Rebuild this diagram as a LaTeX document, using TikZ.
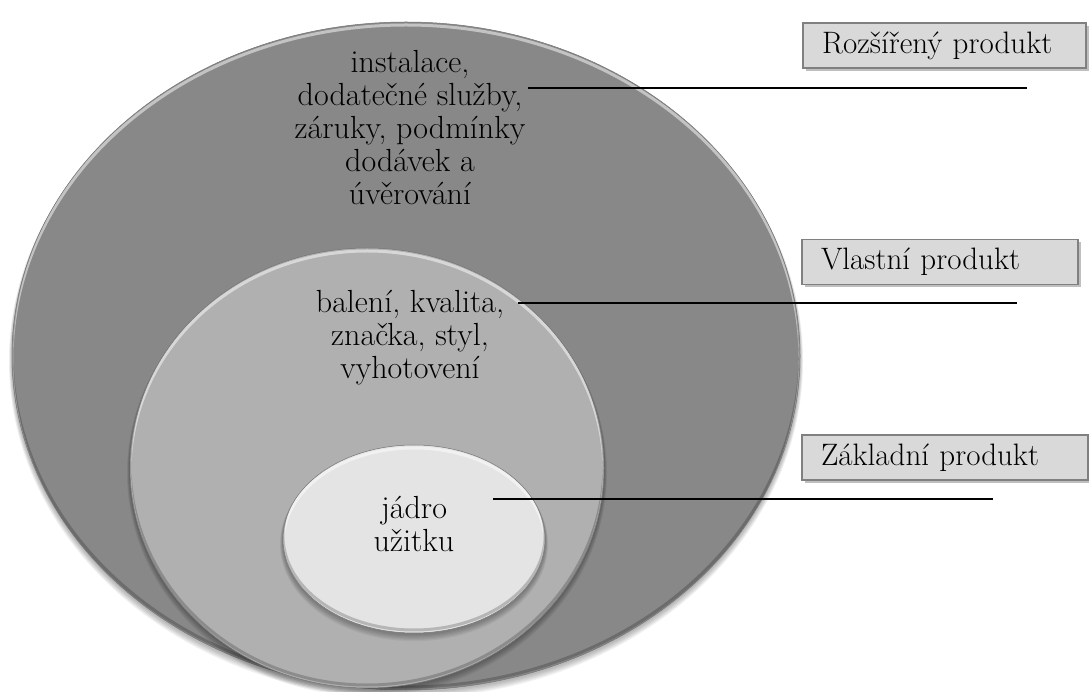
\documentclass[tikz,border=0pt]{standalone}
\usepackage{fontspec}
\usetikzlibrary{shadows}
\definecolor{outerfill}{HTML}{888888}
\definecolor{middlefill}{HTML}{B0B0B0}
\definecolor{innerfill}{HTML}{E4E4E4}
\definecolor{boxfill}{HTML}{D9D9D9}
\definecolor{boxborder}{HTML}{808080}
\definecolor{boxshadow}{HTML}{BFBFBF}
\newcommand\bevelell[5]{%
  \foreach \k in {1,...,6}
    \fill[black,opacity=0.05] (#1,#2-1-\k*0.7) ellipse [x radius=#3+\k*0.5, y radius=#4+\k*0.5];
  \fill[#5] (#1,#2) ellipse [x radius=#3, y radius=#4];
  \begin{scope}
    \clip (#1,#2) ellipse [x radius=#3, y radius=#4];
    \draw[white,opacity=0.5,line width=3pt] (#1,#2-3) ellipse [x radius=#3, y radius=#4];
    \draw[black,opacity=0.2,line width=3pt] (#1,#2+3) ellipse [x radius=#3, y radius=#4];
  \end{scope}
  \draw[black!55,line width=0.5pt] (#1,#2) ellipse [x radius=#3, y radius=#4];
}
\begin{document}
\begin{tikzpicture}[x=1pt,y=1pt]
\useasboundingbox (0,0) rectangle (1089,691);
\tikzset{
  lbl/.style={align=center, font=\fontsize{32}{33}\selectfont, inner sep=0pt},
  lbox/.style={draw=boxborder, line width=1.5pt, fill=boxfill, minimum height=45pt,
     text width=#1, align=left, inner xsep=19pt, inner ysep=0pt,
     font=\fontsize{31}{33}\selectfont,
     drop shadow={shadow xshift=3pt, shadow yshift=-3pt, fill=boxshadow, opacity=1}},
  conn/.style={line width=1.5pt, black}
}
% ellipses
\bevelell{406}{335}{394}{334}{outerfill}
\bevelell{367}{223}{237}{220}{middlefill}
\bevelell{414}{152}{131}{94}{innerfill}
% texts
\node[lbl] (t1) at (410,563) {instalace,\\dodatečné služby,\\záruky, podmínky\\dodávek a\\úvěrování};
\node[lbl] (t2) at (410,353) {balení, kvalita,\\značka, styl,\\vyhotovení};
\node[lbl] (t3) at (414,167) {jádro\\užitku};
% boxes
\node[lbox=245pt] (b1) at (944.5,645.5) {\mbox{Rozšířený produkt}};
\node[lbox=238pt] (b2) at (940,429) {\mbox{Vlastní produkt}};
\node[lbox=248pt] (b3) at (945,233.5) {\mbox{Základní produkt}};
% connectors
\coordinate (l1s) at (528,603); \coordinate (l1e) at (1027,603);
\coordinate (l2s) at (518,388); \coordinate (l2e) at (1017,388);
\coordinate (l3s) at (493,192); \coordinate (l3e) at (993,192);
\draw[conn] (l1s) -- (l1e);
\draw[conn] (l2s) -- (l2e);
\draw[conn] (l3s) -- (l3e);
\end{tikzpicture}
\end{document}
